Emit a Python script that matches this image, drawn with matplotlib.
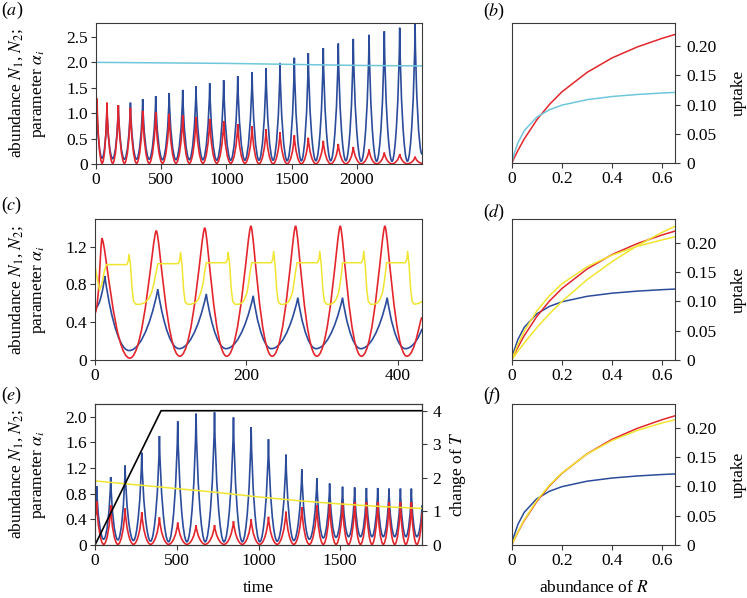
import matplotlib.pyplot as plt
from matplotlib.path import Path
from matplotlib.patches import PathPatch

plt.rcParams['font.family'] = ['Liberation Serif', 'DejaVu Serif']
plt.rcParams['mathtext.fontset'] = 'stix'
plt.rcParams['font.size'] = 12.5

BLUE = '#2b4b9b'
RED = '#e3262d'
CYAN = '#6fc7dc'
YELLOW = '#f0e530'
FRAME = '#3a3a3a'
FS = 12.5

# ---- panel (a): abundances and alpha over time ----
a_start_blue, a_start_red = (0, 0.55), (0, 0.75)
a_end_blue, a_end_red = (2500, 0.2), (2500, 0.02)
a_peak_t = [8, 84, 171, 264, 358, 458, 561, 665, 767, 872, 979, 1087, 1197, 1304,
            1411, 1521, 1628, 1743, 1858, 1973, 2094, 2211, 2329, 2447]
a_blue_peak = [1.05, 1.12, 1.16, 1.21, 1.28, 1.34, 1.40, 1.46, 1.53, 1.59, 1.65, 1.73,
               1.81, 1.89, 1.99, 2.09, 2.18, 2.28, 2.37, 2.46, 2.54, 2.61, 2.68, 2.75]
a_red_peak = [1.29, 1.21, 1.16, 1.11, 1.05, 1.02, 0.99, 0.96, 0.93, 0.89, 0.85, 0.79,
              0.75, 0.69, 0.63, 0.57, 0.52, 0.46, 0.40, 0.34, 0.29, 0.23, 0.20, 0.15]
a_trough_t = [47, 128, 218, 311, 408, 510, 613, 716, 820, 926, 1033, 1142, 1250, 1358,
              1466, 1575, 1686, 1800, 1916, 2034, 2152, 2270, 2388]
a_blue_trough = [0.12, 0.11, 0.10, 0.10, 0.10, 0.09, 0.09, 0.09, 0.09, 0.08, 0.08, 0.08,
                 0.08, 0.08, 0.07, 0.07, 0.07, 0.07, 0.07, 0.06, 0.06, 0.06, 0.06]
a_red_trough = [0.02, 0.02, 0.02, 0.02, 0.02, 0.02, 0.02, 0.02, 0.02, 0.02, 0.02, 0.02,
                0.01, 0.01, 0.01, 0.01, 0.01, 0.01, 0.01, 0.01, 0.01, 0.01, 0.01]
a_alpha_t = [0, 500, 1000, 1500, 2000, 2500]
a_alpha = [2.0, 1.99, 1.98, 1.96, 1.94, 1.93]

# ---- panel (c) ----
c_start_blue, c_start_red = (0, 0.55), (0, 0.5)
c_end_blue, c_end_red = (432, 0.33), (432, 0.45)
c_red_peak_t = [9, 81, 145, 206, 265, 324, 383]
c_red_peak = [1.29, 1.37, 1.40, 1.42, 1.42, 1.42, 1.42]
c_red_trough_t = [46, 112, 174, 234, 293, 352, 412]
c_red_trough = [0.02, 0.04, 0.04, 0.04, 0.04, 0.04, 0.04]
c_blue_peak_t = [13, 83, 147, 209, 268, 327, 386]
c_blue_peak = [0.89, 0.75, 0.70, 0.68, 0.66, 0.66, 0.66]
c_blue_trough_t = [45, 111, 173, 233, 292, 351, 410]
c_blue_trough = [0.10, 0.12, 0.12, 0.12, 0.12, 0.12, 0.12]
c_alpha_t = [0, 3, 6, 9, 12, 15, 42, 44, 45, 47, 49, 51, 54, 60, 66, 71, 75, 78, 81, 83,
             110, 112, 113, 115, 117, 119, 122, 127, 133, 137, 140, 143, 145, 147,
             173, 175, 176, 178, 180, 182, 185, 190, 195, 198, 201, 203, 205, 207,
             233, 235, 236, 238, 240, 242, 245, 250, 255, 258, 261, 263, 265, 267,
             294, 296, 297, 299, 301, 303, 306, 311, 316, 319, 322, 324, 326, 327,
             352, 354, 355, 357, 359, 361, 364, 369, 374, 377, 380, 382, 384, 385,
             410, 412, 413, 415, 417, 419, 422, 428, 432]
c_alpha = [1.0, 0.86, 0.74, 0.80, 0.93, 1.01, 1.01, 1.05, 1.12, 1.0, 0.75, 0.62, 0.59,
           0.59, 0.61, 0.65, 0.72, 0.82, 0.94, 1.02,
           1.02, 1.06, 1.14, 1.0, 0.75, 0.62, 0.59, 0.59, 0.61, 0.65, 0.72, 0.82, 0.94, 1.03,
           1.03, 1.07, 1.14, 1.0, 0.75, 0.62, 0.59, 0.59, 0.61, 0.65, 0.72, 0.82, 0.94, 1.03,
           1.03, 1.07, 1.15, 1.0, 0.75, 0.62, 0.59, 0.59, 0.61, 0.65, 0.72, 0.82, 0.94, 1.03,
           1.03, 1.07, 1.15, 1.0, 0.75, 0.62, 0.59, 0.59, 0.61, 0.65, 0.72, 0.82, 0.94, 1.03,
           1.03, 1.07, 1.15, 1.0, 0.75, 0.62, 0.59, 0.59, 0.61, 0.65, 0.72, 0.82, 0.94, 1.03,
           1.03, 1.07, 1.15, 1.0, 0.75, 0.62, 0.59, 0.60, 0.62]

# ---- panel (e) ----
e_start_blue, e_start_red = (0, 0.6), (0, 0.45)
e_end_blue, e_end_red = (2000, 0.62), (2000, 0.5)
e_peak_t = [10, 96, 184, 286, 394, 506, 618, 731, 847, 955, 1061, 1168, 1265, 1357,
            1435, 1514, 1588, 1660, 1729, 1798, 1868, 1935]
e_blue_peak = [0.92, 1.06, 1.24, 1.44, 1.70, 1.93, 2.05, 2.07, 1.99, 1.84, 1.65, 1.41,
               1.18, 1.04, 0.96, 0.91, 0.90, 0.89, 0.89, 0.88, 0.88, 0.88]
e_red_peak = [0.68, 0.62, 0.57, 0.51, 0.43, 0.35, 0.31, 0.31, 0.37, 0.40, 0.44, 0.52,
              0.59, 0.62, 0.65, 0.66, 0.67, 0.67, 0.67, 0.67, 0.67, 0.67]
e_trough_t = [53, 140, 235, 340, 450, 562, 674, 789, 901, 1008, 1114, 1216, 1311, 1396,
              1474, 1551, 1624, 1694, 1763, 1833, 1901, 1968]
e_blue_trough = [0.09, 0.08, 0.07, 0.06, 0.05, 0.05, 0.05, 0.05, 0.05, 0.05, 0.06, 0.07,
                 0.09, 0.11, 0.12, 0.13, 0.13, 0.13, 0.13, 0.13, 0.13, 0.13]
e_red_trough = [0.01] * 22
e_alpha_t = [0, 250, 500, 750, 1000, 1250, 1500, 1750, 2000]
e_alpha = [1.0, 0.94, 0.88, 0.82, 0.75, 0.69, 0.64, 0.60, 0.57]
e_T_t = [0, 404, 2000]
e_T = [0, 4, 4]

# ---- uptake curves (b), (d), (f) ----
R = [0, 0.01, 0.025, 0.05, 0.1, 0.15, 0.2, 0.3, 0.4, 0.5, 0.6, 0.65]
up_red = [0, 0.0092, 0.0221, 0.0416, 0.0742, 0.1004, 0.122, 0.1552, 0.180, 0.1986, 0.2135, 0.2199]
up_low = [0, 0.0168, 0.0353, 0.0558, 0.0788, 0.0914, 0.0993, 0.1086, 0.1140, 0.1175, 0.1200, 0.1210]
up_d_yel1 = [0, 0.0061, 0.0150, 0.0291, 0.0552, 0.0787, 0.100, 0.137, 0.168, 0.195, 0.218, 0.228]
up_d_yel2 = [0, 0.0113, 0.0268, 0.0490, 0.0838, 0.1097, 0.1299, 0.159, 0.179, 0.194, 0.205, 0.210]
up_f_yel = [0, 0.0095, 0.0228, 0.0428, 0.0757, 0.1015, 0.1225, 0.155, 0.178, 0.195, 0.208, 0.213]


def knots(start, peak_t, peak_v, trough_t, trough_v, end):
    ts, vs = [start[0]], [start[1]]
    for i in range(len(peak_t)):
        ts.append(peak_t[i]); vs.append(peak_v[i])
        if i < len(trough_t):
            ts.append(trough_t[i]); vs.append(trough_v[i])
    ts.append(end[0]); vs.append(end[1])
    return ts, vs


def draw_cycles(ax, ts, vs, color, a=0.45, b=0.1, c=0.5, lw=1.2):
    # bezier through peaks/troughs: flat at troughs, pointed at peaks
    verts = [(ts[0], vs[0])]
    codes = [Path.MOVETO]
    for i in range(len(ts) - 1):
        t0, v0, t1, v1 = ts[i], vs[i], ts[i + 1], vs[i + 1]
        d = t1 - t0
        if v1 >= v0:
            c1 = (t0 + a * d, v0)
            c2 = (t1 - b * d, v1 - c * (v1 - v0))
        else:
            c1 = (t0 + b * d, v0 - c * (v0 - v1))
            c2 = (t1 - a * d, v1)
        verts += [c1, c2, (t1, v1)]
        codes += [Path.CURVE4] * 3
    ax.add_patch(PathPatch(Path(verts, codes), fill=False, edgecolor=color, lw=lw))


def frame(ax):
    for s in ax.spines.values():
        s.set_color(FRAME)
        s.set_linewidth(0.8)
    ax.tick_params(direction='out', length=3.5, width=0.8, color=FRAME, labelsize=FS)


W, H = 747, 598
fig = plt.figure(figsize=(W / 100, H / 100), dpi=100)


def box(l, t, r, b):
    return [l / W, 1 - b / H, (r - l) / W, (b - t) / H]


ax_a = fig.add_axes(box(96, 22.6, 422, 164.3))
ax_c = fig.add_axes(box(95, 219.3, 422, 360))
ax_e = fig.add_axes(box(95, 404, 422, 545))
ax_b = fig.add_axes(box(511.7, 22.7, 675, 163.3))
ax_d = fig.add_axes(box(511.7, 219.3, 675, 360))
ax_f = fig.add_axes(box(511.7, 404, 675, 545))

# (a)
ax_a.plot(a_alpha_t, a_alpha, color=CYAN, lw=1.1)
draw_cycles(ax_a, *knots(a_start_blue, a_peak_t, a_blue_peak, a_trough_t, a_blue_trough, a_end_blue), BLUE)
draw_cycles(ax_a, *knots(a_start_red, a_peak_t, a_red_peak, a_trough_t, a_red_trough, a_end_red), RED)
ax_a.set_xlim(0, 2500)
ax_a.set_ylim(0, 2.78)
ax_a.set_xticks([0, 500, 1000, 1500, 2000])
ax_a.set_yticks([0, 0.5, 1.0, 1.5, 2.0, 2.5])
ax_a.set_yticklabels(['0', '0.5', '1.0', '1.5', '2.0', '2.5'])

# (c)
draw_cycles(ax_c, *knots(c_start_blue, c_blue_peak_t, c_blue_peak, c_blue_trough_t, c_blue_trough, c_end_blue),
            BLUE, a=0.5, b=0.12, c=0.3)
draw_cycles(ax_c, *knots(c_start_red, c_red_peak_t, c_red_peak, c_red_trough_t, c_red_trough, c_end_red),
            RED, a=0.55, b=0.15, c=0.03)
ax_c.plot(c_alpha_t, c_alpha, color=YELLOW, lw=1.1)
ax_c.set_xlim(0, 432)
ax_c.set_ylim(0, 1.49)
ax_c.set_xticks([0, 200, 400])
ax_c.set_yticks([0, 0.4, 0.8, 1.2])
ax_c.set_yticklabels(['0', '0.4', '0.8', '1.2'])

# (e)
draw_cycles(ax_e, *knots(e_start_blue, e_peak_t, e_blue_peak, e_trough_t, e_blue_trough, e_end_blue), BLUE)
draw_cycles(ax_e, *knots(e_start_red, e_peak_t, e_red_peak, e_trough_t, e_red_trough, e_end_red), RED)
ax_e.plot(e_alpha_t, e_alpha, color=YELLOW, lw=1.1)
ax_e.set_xlim(0, 2000)
ax_e.set_ylim(0, 2.2)
ax_e.set_xticks([0, 500, 1000, 1500])
ax_e.set_yticks([0, 0.4, 0.8, 1.2, 1.6, 2.0])
ax_e.set_yticklabels(['0', '0.4', '0.8', '1.2', '1.6', '2.0'])
ax_e.set_xlabel('time', labelpad=8, fontsize=FS)
ax_e2 = ax_e.twinx()
ax_e2.plot(e_T_t, e_T, color='black', lw=1.2)
ax_e2.set_ylim(0, 4.2)
ax_e2.set_yticks([0, 1, 2, 3, 4])
frame(ax_e2)
ax_e2.tick_params(pad=4)

for ax in (ax_a, ax_c, ax_e):
    frame(ax)
    ax.tick_params(top=False, right=False, pad=2)

# right column
for ax, curves in ((ax_b, [(up_red, RED), (up_low, CYAN)]),
                   (ax_d, [(up_low, BLUE), (up_red, RED), (up_d_yel1, YELLOW), (up_d_yel2, YELLOW)]),
                   (ax_f, [(up_low, BLUE), (up_red, RED), (up_f_yel, YELLOW)])):
    for vals, col in curves:
        ax.plot(R, vals, color=col, lw=1.1)
    ax.set_xlim(0, 0.65)
    ax.set_ylim(0, 0.24)
    ax.set_xticks([0, 0.2, 0.4, 0.6])
    ax.set_xticklabels(['0', '0.2', '0.4', '0.6'])
    ax.set_yticks([0, 0.05, 0.10, 0.15, 0.20])
    ax.set_yticklabels(['0', '0.05', '0.10', '0.15', '0.20'])
    ax.yaxis.tick_right()
    frame(ax)
    ax.tick_params(left=False, top=False, pad=2)
    ax.tick_params(axis='y', pad=5)
    pos = ax.get_position()
    fig.text(739 / W, (pos.y0 + pos.y1) / 2, 'uptake',
             rotation=90, ha='center', va='center', fontsize=FS)
ax_f.set_xlabel('abundance of $R$', labelpad=8, fontsize=FS)

# left labels
for ax in (ax_a, ax_c, ax_e):
    pos = ax.get_position()
    fig.text(28 / W, (pos.y0 + pos.y1) / 2, 'abundance $N_1$, $N_2$;\nparameter $\\alpha_i$', rotation=90,
             ha='center', va='center', multialignment='center', fontsize=FS, linespacing=1.4)
pos = ax_e.get_position()
fig.text(458 / W, (pos.y0 + pos.y1) / 2, 'change of $T$',
         rotation=90, ha='center', va='center', fontsize=FS)

# panel letters
for x, y, s in ((1, 10, 'a'), (483, 11, 'b'), (1, 205, 'c'), (483, 212, 'd'), (1, 395, 'e'), (483, 395, 'f')):
    fig.text(x / W, 1 - y / H, '($%s$)' % s, ha='left', va='center', fontsize=13)

fig.savefig('out.png', dpi=100)
